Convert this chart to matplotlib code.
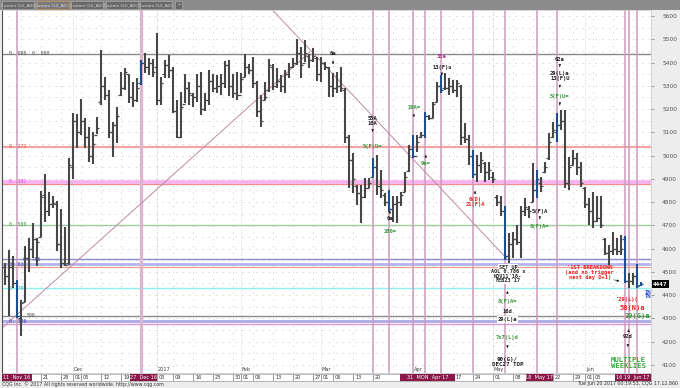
import matplotlib
matplotlib.use("Agg")
import matplotlib.pyplot as plt
import matplotlib.transforms as mtransforms
from matplotlib.patches import Rectangle

# daily OHLC, one entry per session
highs = [4537, 4594, 4566, 4465, 4379, 4609, 4644, 4712, 4644, 4849,
         4921, 4845, 4826, 4806, 4769, 4692, 4991, 5182, 5177, 5243,
         5163, 5122, 5100, 5165, 5454, 5339, 5282, 5146, 5210, 5361,
         5378, 5347, 5318, 5332, 5411, 5440, 5421, 5414, 5526, 5339,
         5411, 5433, 5382, 5239, 5275, 5349, 5315, 5268, 5349, 5361,
         5268, 5368, 5351, 5347, 5349, 5407, 5411, 5349, 5361, 5354,
         5435, 5392, 5425, 5321, 5261, 5318, 5415, 5392, 5375, 5347,
         5368, 5397, 5418, 5501, 5468, 5497, 5435, 5461, 5425, 5425,
         5404, 5382, 5354, 5361, 5382, 5289, 5089, 5010, 4874, 4874,
         4902, 4902, 4988, 5003, 4938, 4838, 4852, 4824, 4824, 4845,
         4931, 5046, 5089, 5089, 5103, 5189, 5175, 5232, 5318, 5347,
         5354, 5332, 5325, 5325, 5304, 5139, 5089, 5024, 5003, 5017,
         4974, 4974, 4931, 4831, 4824, 4781, 4666, 4673, 4702, 4781,
         4816, 4781, 4967, 4938, 4909, 4974, 5096, 5146, 5182, 5196,
         5196, 4995, 5024, 5010, 4974, 4866, 4816, 4845, 4824, 4824,
         4644, 4616, 4673, 4644, 4659, 4652, 4494, 4494, 4533, 4458]
lows = [4444, 4308, 4429, 4300, 4222, 4372, 4501, 4558, 4523, 4649,
        4716, 4738, 4773, 4591, 4515, 4523, 4530, 4899, 5031, 5089,
        5031, 4974, 4962, 5093, 5218, 5239, 5074, 4995, 5053, 5258,
        5282, 5225, 5210, 5232, 5304, 5354, 5347, 5339, 5218, 5218,
        5332, 5332, 5182, 5074, 5074, 5225, 5218, 5210, 5229, 5175,
        5192, 5218, 5275, 5268, 5261, 5289, 5258, 5249, 5239, 5268,
        5339, 5349, 5292, 5167, 5124, 5239, 5275, 5282, 5289, 5275,
        5268, 5332, 5375, 5390, 5335, 5404, 5378, 5404, 5321, 5318,
        5368, 5253, 5253, 5268, 5275, 5053, 4859, 4838, 4788, 4709,
        4816, 4859, 4909, 4831, 4816, 4781, 4759, 4716, 4709, 4781,
        4845, 4931, 4988, 5017, 5074, 5074, 5153, 5160, 5232, 5268,
        5282, 5261, 5268, 5253, 5046, 5053, 4960, 4902, 4888, 4924,
        4888, 4895, 4881, 4781, 4738, 4551, 4537, 4558, 4616, 4558,
        4738, 4730, 4802, 4816, 4845, 4924, 4981, 5074, 5060, 5110,
        4859, 4852, 4960, 4916, 4866, 4773, 4702, 4687, 4716, 4687,
        4573, 4530, 4573, 4573, 4573, 4451, 4429, 4444, 4429, 4441]
opens = [4520, 4480, 4520, 4450, 4300, 4370, 4560, 4600, 4640, 4650,
         4830, 4760, 4790, 4790, 4620, 4540, 4540, 4950, 5150, 5100,
         5150, 5080, 5000, 5090, 5230, 5300, 5260, 5100, 5130, 5260,
         5290, 5350, 5250, 5240, 5310, 5400, 5380, 5400, 5380, 5240,
         5350, 5390, 5370, 5190, 5080, 5220, 5290, 5260, 5250, 5300,
         5200, 5240, 5320, 5290, 5300, 5310, 5390, 5300, 5270, 5260,
         5340, 5380, 5370, 5310, 5190, 5240, 5280, 5380, 5300, 5320,
         5300, 5350, 5380, 5400, 5440, 5400, 5430, 5410, 5420, 5350,
         5400, 5380, 5300, 5290, 5300, 5280, 5080, 4980, 4870, 4840,
         4820, 4860, 4910, 4950, 4870, 4830, 4800, 4770, 4790, 4800,
         4845, 4935, 5030, 5000, 5080, 5090, 5170, 5160, 5230, 5300,
         5290, 5290, 5300, 5280, 5300, 5080, 5070, 5000, 4920, 4960,
         4970, 4930, 4910, 4820, 4800, 4760, 4570, 4620, 4640, 4630,
         4760, 4770, 4800, 4850, 4880, 4930, 4990, 5080, 5100, 5130,
         5150, 4880, 4960, 4990, 4950, 4860, 4790, 4760, 4720, 4730,
         4640, 4580, 4590, 4600, 4590, 4640, 4460, 4460, 4480, 4445]
closes = [4480, 4520, 4450, 4310, 4365, 4560, 4600, 4640, 4630, 4820,
          4760, 4790, 4795, 4620, 4540, 4530, 4960, 5150, 5100, 5150,
          5080, 5000, 5050, 5120, 5300, 5260, 5100, 5130, 5170, 5290,
          5360, 5250, 5240, 5290, 5400, 5380, 5400, 5360, 5240, 5310,
          5390, 5370, 5190, 5080, 5210, 5290, 5270, 5250, 5300, 5200,
          5240, 5320, 5290, 5300, 5310, 5390, 5300, 5270, 5260, 5330,
          5380, 5370, 5310, 5190, 5150, 5250, 5390, 5300, 5320, 5300,
          5350, 5380, 5400, 5440, 5390, 5440, 5410, 5430, 5350, 5400,
          5380, 5300, 5290, 5300, 5290, 5080, 4980, 4900, 4840, 4820,
          4860, 4880, 4950, 4870, 4850, 4800, 4770, 4790, 4800, 4830,
          4910, 5030, 5000, 5060, 5090, 5170, 5160, 5220, 5300, 5280,
          5290, 5300, 5280, 5310, 5080, 5070, 5000, 4920, 4960, 4980,
          4930, 4940, 4900, 4800, 4760, 4570, 4620, 4640, 4630, 4760,
          4780, 4760, 4850, 4900, 4870, 4950, 5060, 5110, 5130, 5150,
          4880, 4950, 4990, 4950, 4880, 4790, 4760, 4720, 4730, 4700,
          4580, 4590, 4600, 4590, 4600, 4460, 4460, 4480, 4440, 4447]
last_price = 4447

blue_bars = [3, 34, 92, 96, 102, 105, 109, 117, 125, 133, 138, 155, 158, 159]
cycle_days = [3, 92, 96, 102, 105, 109, 117, 125, 133, 138, 155, 156, 158]
main_cycle_day = 34

# retracement levels
level_values = [5437, 5037, 4887, 4879, 4702, 4554, 4533, 4522, 4430, 4312, 4288, 4275]
level_colors = ["#8a8a8a", "#f5a3a3", "#f7b0f0", "#f08c8c", "#9ccf9c", "#8c8cd0",
                "#b4b4ee", "#f0a08c", "#8ef0f0", "#8a8a8a", "#aaaae6", "#d89ad8"]
level_widths = [1.0, 1.6, 2.6, 0.9, 1.0, 1.0, 2.0, 0.9, 1.0, 1.0, 2.0, 1.0]
level_tags = [("0. 000  0. 000", 5437, 1.0, "#505050"), ("0. 272", 5037, 1.0, "#e05050"),
              ("0. 382", 4887, 1.0, "#e050e0"), ("0. 500", 4702, 1.0, "#409040"),
              ("0. 786", 4554, 4.5, "#4040b0"), ("0. 618", 4533, 1.0, "#4040b0"),
              ("0. 707", 4430, 1.0, "#30c0c0"), ("500", 4312, 5.5, "#505050"),
              ("0. 786", 4288, 1.0, "#4040b0")]

# trend lines (bar index, price)
up_line = ([-1.2, 76.3], [4250, 5445])
down_line = ([64.0, 125.5], [5680, 4558])

# date strip
tick_idx = [9, 14, 17, 19, 24, 29, 38, 42, 47, 52, 57, 59, 62, 67, 72, 77, 79, 82, 87, 92,
            112, 117, 122, 127, 137, 142, 145, 147]
tick_text = ["21", "28", "01", "05", "12", "19", "03", "09", "16", "23", "30", "01", "06", "13",
             "20", "27", "01", "06", "13", "20", "17", "24", "01", "08", "22", "29", "01", "05"]
month_idx = [17, 38, 59, 79, 102, 122, 145]
month_text = ["Dec", "2017", "Feb", "Mar", "Apr", "May", "Jun"]
hl_left = [-0.7, 31.3, 98.8, 130.3, 152.5]
hl_right = [6.8, 38.1, 112.6, 137.1, 161.6]
hl_text = ["11  Nov 16", "27  Dec 16", "31  MON  Apr 17", "18  May 17", "16 19  Jun 17"]
week_idx = [4, 9, 14, 19, 24, 29, 38, 42, 47, 52, 57, 62, 67, 72, 77, 82, 87, 92, 97, 102,
            107, 112, 117, 122, 127, 132, 137, 142, 147, 152, 157]

# annotations: (bar index, price, text, colour, size)
notes = [
    (82.1, 5440, "6a", "#202020", 4),
    (92.0, 5161, "55A", "#202020", 4), (92.0, 5140, "10A", "#202020", 4),
    (92.0, 5038, "5(F)U=", "#3a9a3a", 4),
    (96.3, 4730, "6a", "#202020", 4), (96.3, 4673, "200=", "#3a9a3a", 4),
    (102.3, 5205, "10A=", "#3a9a3a", 4), (105.3, 4964, "9a=", "#3a9a3a", 4),
    (109.3, 5424, "33a", "#a03080", 4), (109.3, 5377, "13(F)u", "#202020", 4),
    (117.6, 4809, "6(D)", "#e02020", 4), (117.6, 4788, "21(F)A", "#e02020", 4),
    (138.8, 5415, "62a", "#202020", 4), (138.8, 5351, "29(L)a", "#202020", 4),
    (138.8, 5332, "13(F)U", "#202020", 4), (138.8, 5253, "5(F)U=", "#3a9a3a", 4),
    (133.8, 4759, "5(F)A", "#202020", 4), (133.8, 4693, "8(F)A=", "#3a9a3a", 4),
    (125.7, 4371, "8(F)A=", "#3a9a3a", 4), (125.7, 4328, "16d", "#202020", 4),
    (125.7, 4218, "7x7(L)d", "#3a9a3a", 4),
    (125.7, 4121, "90(G)/", "#202020", 4.2), (125.7, 4100, "DEC27 TOP", "#202020", 4.2),
    (146.3, 4517, "'1ST BREAKDOWN", "#f02020", 3.9), (146.3, 4496, "(and no trigger", "#f02020", 3.9),
    (146.3, 4475, "next day D+1)", "#f02020", 3.9),
    (155.6, 4379, "'29(L)(", "#f02020", 4), (160.8, 4413, "IN", "#3050d0", 4),
    (160.8, 4392, "TN", "#3050d0", 4),
    (156.8, 4345, "58(N)a", "#f02020", 5), (158.1, 4310, "30(G)a", "#3a9a3a", 5),
    (155.8, 4224, "92d", "#202020", 4),
    (156.0, 4121, "MULTIPLE", "#3aaa3a", 5.2), (156.0, 4096, "WEEKLIES", "#3aaa3a", 5.2),
]
boxed_notes = [(125.7, 4294, "29(L)a")]
setup_lines = ["SET UP", "AOL 0.786 x", "NOV11'16-", "FEB23'17"]
setup_prices = [4520, 4501, 4482, 4462]
# little arrows: (bar index, from price, to price)
arrows = [(82.1, 5420, 5380), (92.0, 5120, 5090), (96.3, 4745, 4775), (102.3, 5185, 5165),
          (105.3, 4985, 5015), (109.3, 5360, 5345), (117.6, 4830, 4860), (138.8, 5395, 5370),
          (138.8, 5310, 5280), (138.8, 5230, 5205), (133.8, 4740, 4715), (125.7, 4395, 4430),
          (125.7, 4195, 4160), (155.8, 4200, 4165), (156.0, 4235, 4265)]

W, H = 680, 388
fig = plt.figure(figsize=(W / 100, H / 100), dpi=100, facecolor="#ededed")

# tab strip on top
fig.patches.append(Rectangle((0, 1 - 10 / H), 1, 10 / H, transform=fig.transFigure,
                             facecolor="#8c8c8c", edgecolor="none", zorder=0))
for k in range(5):
    x0 = (2 + k * 34.5) / W
    sel = k == 1
    fig.patches.append(Rectangle((x0, 1 - 9 / H), 32 / W, 7.5 / H, transform=fig.transFigure,
                                 facecolor="#7a7a7a" if sel else "#696969",
                                 edgecolor="#d09050" if sel else "#a8a8a8", lw=0.5, zorder=1))
    fig.text(x0 + 16 / W, 1 - 5.3 / H, "Custom CLE_ADC", fontsize=2.8, color="#d8d8d8",
             ha="center", va="center", zorder=2)
fig.patches.append(Rectangle((175 / W, 1 - 9 / H), 7 / W, 7.5 / H, transform=fig.transFigure,
                             facecolor="#696969", edgecolor="#a8a8a8", lw=0.5, zorder=1))
fig.text(178.5 / W, 1 - 5.3 / H, "»", fontsize=3.5, color="#dddddd", ha="center", va="center")

ax = fig.add_axes([2 / W, 15 / H, 649 / W, 363 / H])
ax.set_facecolor("white")
ax.set_xlim(-0.675, 161.6)
ax.set_ylim(4065, 5626)

# dotted background grid
for v in range(4100, 5601, 50):
    ax.axhline(v, color="#b0b0b0", lw=0.6, ls=(0, (1, 7)), zorder=0)
for i in week_idx:
    ax.axvline(i, color="#b0b0b0", lw=0.6, ls=(0, (1, 7)), zorder=0)
for i in month_idx:
    ax.axvline(i, color="#c8c8c8", lw=0.6, ls=(0, (1, 2)), zorder=0)

for v, c, w in zip(level_values, level_colors, level_widths):
    ax.axhline(v, color=c, lw=w, zorder=1)

for i in cycle_days:
    ax.axvline(i, color="#cc9cbc", lw=1.1, zorder=1)
ax.axvline(main_cycle_day, color="#dcb6cf", lw=2.4, zorder=1)

ax.plot(*up_line, color="#c08aa6", lw=0.7, zorder=2)
ax.plot(*down_line, color="#c08aa6", lw=0.7, zorder=2)

for txt, v, i, c in level_tags:
    ax.text(i, v, txt, fontsize=3.5, color=c, va="center", ha="left", zorder=3,
            family="DejaVu Sans Mono")

xs = list(range(len(highs)))
cols = ["#1f4e8a" if i in blue_bars else "#474747" for i in xs]
ax.vlines(xs, lows, highs, colors=cols, lw=1.5, zorder=4)
ax.hlines(opens, [x - 0.65 for x in xs], xs, colors=cols, lw=0.9, zorder=4)
ax.hlines(closes, xs, [x + 0.65 for x in xs], colors=cols, lw=0.9, zorder=4)

for i, v, txt, c, s in notes:
    ax.text(i, v, txt, fontsize=s, color=c, ha="center", va="center", fontweight="bold",
            family="DejaVu Sans Mono", zorder=6)
for i, v, txt in boxed_notes:
    ax.text(i, v, txt, fontsize=4, color="#202020", ha="center", va="center", fontweight="bold",
            family="DejaVu Sans Mono", zorder=6,
            bbox=dict(boxstyle="square,pad=0.15", fc="white", ec="none"))
for txt, v in zip(setup_lines, setup_prices):
    ax.text(125.9, v, txt, fontsize=3.7, color="#202020", ha="center", va="center",
            fontweight="bold", family="DejaVu Sans Mono", zorder=6,
            bbox=dict(boxstyle="square,pad=0.1", fc="white", ec="none"))
for i, a, b in arrows:
    ax.annotate("", xy=(i, b), xytext=(i, a),
                arrowprops=dict(arrowstyle="-|>", lw=0.5, color="#202020", mutation_scale=3),
                zorder=6)
ax.annotate("", xy=(154.4, 4457), xytext=(151.8, 4468),
            arrowprops=dict(arrowstyle="-|>", lw=0.5, color="#202020", mutation_scale=3))

# right price scale
ax.yaxis.tick_right()
ax.set_yticks(range(4100, 5601, 100))
ax.tick_params(axis="y", labelsize=4.2, colors="#555555", length=2, width=0.4, pad=6)
ax.set_xticks([])
for side in ["top", "bottom", "right"]:
    ax.spines[side].set_color("#c8c8c8")
    ax.spines[side].set_linewidth(0.5)
ax.spines["left"].set_color("#505050")
ax.spines["left"].set_linewidth(0.8)

ax.text(1.003, last_price, str(last_price),
        transform=mtransforms.blended_transform_factory(ax.transAxes, ax.transData),
        fontsize=3.8, color="white", va="center", ha="left", fontweight="bold",
        bbox=dict(boxstyle="square,pad=0.25", fc="black", ec="none"), clip_on=False)

for i, t in zip(month_idx, month_text):
    ax.text(i + 0.3, 4078, t, fontsize=3.6, color="#404040", ha="left", va="center")

# date strip below the plot
sx = fig.add_axes([2 / W, 7 / H, 649 / W, 7.5 / H])
sx.set_xlim(ax.get_xlim())
sx.set_ylim(0, 1)
sx.set_facecolor("white")
sx.set_xticks([])
sx.set_yticks([])
for s in sx.spines.values():
    s.set_color("#888888")
    s.set_linewidth(0.4)
for i, t in zip(tick_idx, tick_text):
    sx.axvline(i, color="#505050", lw=0.4)
    sx.text(i + 0.6, 0.5, t, fontsize=3.6, color="#303030", ha="left", va="center")
for a, b, t in zip(hl_left, hl_right, hl_text):
    sx.add_patch(Rectangle((a, 0), b - a, 1, facecolor="#8a1848", edgecolor="none", zorder=3))
    sx.text((a + b) / 2, 0.5, t, fontsize=3.6, color="white", ha="center", va="center", zorder=4)

fig.text(2 / W, 4 / H, "CQG Inc. © 2017 All rights reserved worldwide. http://www.cqg.com",
         fontsize=3.4, color="#303030", ha="left", va="center")
fig.text(678 / W, 4 / H, "Tue Jun 20 2017 00:19:53, CQG 17.12.860",
         fontsize=3.4, color="#303030", ha="right", va="center")

fig.savefig("out.png", dpi=100, facecolor=fig.get_facecolor())
